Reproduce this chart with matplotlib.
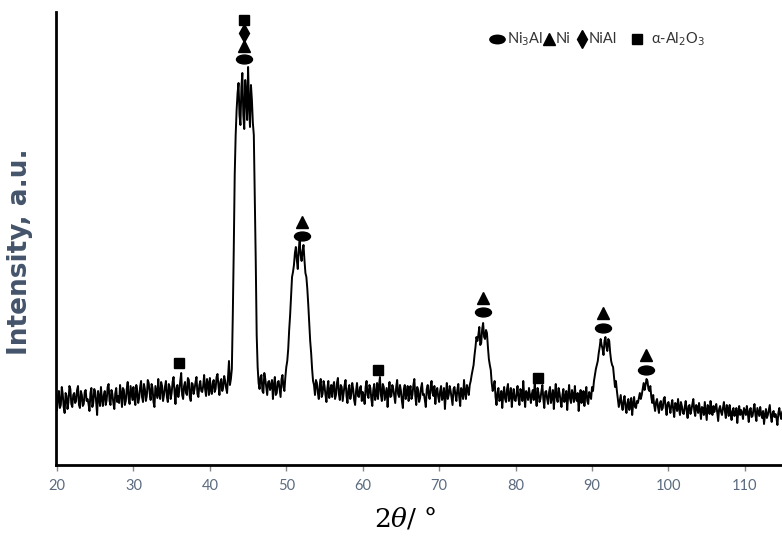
import numpy as np
import matplotlib
matplotlib.use("Agg")
import matplotlib.pyplot as plt
from matplotlib.path import Path
from matplotlib.transforms import Affine2D

# ---------------------------------------------
# XRD scan, intensity in a.u.
# readings on the 0.25 deg grid (20.0, 20.25, ...)
# and the in-between readings (20.125, 20.375, ...)
# ---------------------------------------------
theta_start = 20.0
theta_step = 0.25
intensity = [
    55, 74, 60, 71, 52, 69, 63, 76,
    58, 72, 64, 79, 57, 70, 61, 75,
    66, 54, 77, 62, 73, 50, 68, 78,
    59, 74, 65, 81, 60, 71, 56, 77,
    69, 80, 58, 75, 64, 83, 61, 72,
    78, 60, 74, 67, 84, 63, 76, 69,
    82, 65, 77, 58, 73, 86, 66, 79,
    70, 84, 63, 78, 72, 88, 61, 80,
    74, 92, 66, 83, 70, 85, 64, 81,
    76, 88, 68, 84, 73, 90, 69, 82,
    87, 71, 85, 76, 91, 70, 86, 78,
    84, 72, 104, 86, 150, 290, 355, 382,
    340, 392, 336, 372, 398, 338, 365, 330,
    205, 98, 76, 90, 72, 86, 70, 84,
    79, 66, 88, 72, 84, 68, 90, 74,
    98, 116, 150, 188, 200, 218, 196, 224,
    204, 220, 192, 176, 142, 112, 84, 70,
    82, 66, 86, 71, 79, 63, 84, 74,
    68, 83, 70, 87, 65, 78, 72, 85,
    62, 80, 71, 76, 60, 82, 68, 79,
    73, 61, 84, 67, 77, 59, 81, 70,
    66, 88, 64, 78, 71, 58, 83, 69,
    76, 62, 85, 68, 74, 57, 80, 72,
    64, 79, 70, 86, 60, 75, 67, 82,
    71, 58, 80, 66, 84, 69, 61, 77,
    63, 79, 68, 56, 82, 70, 74, 60,
    78, 64, 81, 59, 73, 85, 66, 76,
    80, 90, 100, 118, 124, 138, 122, 142,
    126, 132, 106, 95, 74, 84, 60, 77,
    66, 57, 78, 63, 81, 69, 58, 76,
    64, 79, 60, 73, 84, 58, 71, 77,
    62, 75, 83, 59, 72, 66, 80, 57,
    74, 61, 78, 68, 56, 81, 63, 72,
    58, 76, 67, 55, 80, 62, 70, 79,
    64, 54, 75, 69, 59, 78, 61, 70,
    78, 84, 96, 104, 118, 120, 110, 128,
    114, 124, 104, 98, 78, 74, 58, 70,
    55, 69, 52, 66, 60, 50, 68, 57,
    62, 72, 70, 82, 80, 84, 74, 68,
    70, 54, 66, 52, 64, 57, 68, 50,
    63, 52, 65, 48, 61, 66, 50, 59,
    51, 64, 47, 60, 55, 66, 49, 58,
    62, 46, 57, 63, 45, 58, 64, 50,
    53, 61, 44, 59, 50, 63, 47, 56,
    60, 45, 57, 52, 42, 59, 55, 46,
    54, 59, 43, 57, 49, 61, 44, 53,
    58, 47, 41, 56, 50, 60, 43, 54,
    51, 40, 57, 46, 55, 42, 53, 39,
    52, 45, 38, 54, 47,
]
intensity_mid = [
    68, 57, 78, 58, 72, 56, 79, 61,
    70, 62, 75, 60, 74, 59, 73, 64,
    61, 72, 58, 76, 63, 74, 59, 66,
    70, 60, 78, 64, 75, 62, 72, 63,
    62, 71, 77, 60, 76, 66, 79, 65,
    66, 80, 62, 78, 68, 81, 64, 85,
    72, 81, 63, 79, 67, 70, 83, 64,
    78, 68, 81, 66, 83, 73, 77, 68,
    84, 70, 79, 72, 87, 68, 82, 71,
    83, 71, 80, 74, 79, 76, 86, 70,
    75, 82, 73, 88, 79, 83, 74, 89,
    77, 88, 80, 96, 215, 330, 372, 350,
    378, 350, 385, 345, 360, 380, 342, 270,
    130, 82, 88, 74, 92, 78, 83, 75,
    85, 80, 70, 83, 76, 86, 78, 88,
    104, 135, 170, 193, 212, 205, 216, 210,
    214, 205, 188, 160, 124, 96, 80, 85,
    72, 80, 68, 84, 70, 77, 67, 80,
    79, 66, 82, 71, 80, 64, 80, 69,
    76, 66, 82, 65, 74, 69, 77, 64,
    68, 78, 70, 80, 66, 75, 65, 82,
    79, 70, 81, 65, 77, 73, 68, 80,
    69, 78, 71, 80, 64, 76, 66, 79,
    74, 66, 80, 69, 78, 63, 77, 70,
    65, 76, 70, 78, 72, 79, 74, 68,
    74, 65, 77, 71, 66, 79, 67, 76,
    70, 75, 68, 77, 66, 72, 80, 70,
    84, 95, 110, 128, 130, 120, 136, 128,
    135, 118, 100, 82, 78, 68, 72, 64,
    74, 70, 66, 76, 64, 77, 70, 65,
    72, 66, 76, 64, 69, 74, 65, 70,
    71, 65, 69, 77, 63, 74, 66, 73,
    66, 73, 62, 75, 70, 67, 77, 64,
    70, 63, 74, 69, 66, 75, 63, 67,
    72, 67, 62, 74, 70, 64, 73, 66,
    74, 90, 100, 112, 126, 116, 124, 118,
    126, 112, 100, 88, 84, 66, 64, 60,
    64, 58, 62, 55, 67, 61, 58, 64,
    67, 66, 76, 75, 86, 76, 79, 62,
    60, 63, 58, 62, 55, 66, 58, 61,
    58, 60, 55, 62, 54, 57, 63, 52,
    58, 54, 59, 51, 61, 54, 60, 52,
    55, 58, 50, 54, 60, 51, 56, 59,
    58, 52, 56, 53, 57, 54, 60, 49,
    52, 54, 49, 57, 53, 50, 52, 57,
    50, 52, 55, 48, 56, 50, 57, 49,
    51, 54, 50, 47, 55, 49, 52, 48,
    47, 52, 50, 53, 48, 51, 46, 54,
    48, 51, 46, 50,
]
theta_grid = theta_start + theta_step * np.arange(len(intensity))
theta_mid = theta_start + theta_step / 2 + theta_step * np.arange(len(intensity_mid))
two_theta = np.concatenate([theta_grid, theta_mid])
counts = np.concatenate([intensity, intensity_mid])
order = np.argsort(two_theta)
two_theta, counts = two_theta[order], counts[order]

# phase markers above the peaks
ni3al_x = [44.5, 52.0, 75.7, 91.4, 97.0]
ni3al_y = [406, 229, 153, 137, 95]
ni_x = [44.5, 52.0, 75.7, 91.4, 97.0]
ni_y = [419, 243, 167, 152, 110]
nial_x = [44.5]
nial_y = [432]
al2o3_x = [44.5, 36.0, 62.0, 82.9]
al2o3_y = [445, 102, 95, 87]

xticks = [20, 30, 40, 50, 60, 70, 80, 90, 100, 110]

# oval marker (wider than tall)
ellipse = Path.unit_circle().transformed(Affine2D().scale(1.8, 1.0))

tick_col = "#5b6b7f"

fig = plt.figure(figsize=(7.82, 5.37), dpi=100)
ax = fig.add_axes([56 / 782, 72 / 537, 726 / 782, 453 / 537])

ax.plot(two_theta, counts, color="black", linewidth=1.4)

ax.plot(ni3al_x, ni3al_y, linestyle="none", marker=ellipse, markersize=11.5, color="black")
ax.plot(ni_x, ni_y, linestyle="none", marker="^", markersize=8, color="black")
ax.plot(nial_x, nial_y, linestyle="none", marker="d", markersize=9, color="black")
ax.plot(al2o3_x, al2o3_y, linestyle="none", marker="s", markersize=7, color="black")

ax.set_xlim(19.87, 114.85)
ax.set_ylim(0, 453)
ax.set_xticks(xticks)
ax.set_yticks([])
for s in ["top", "right"]:
    ax.spines[s].set_visible(False)
ax.spines["left"].set_linewidth(2)
ax.spines["bottom"].set_linewidth(2)
ax.tick_params(axis="x", direction="out", length=4, width=1, color="#888888",
               labelsize=10.5, labelcolor=tick_col, pad=6)
for lab in ax.get_xticklabels():
    lab.set_fontfamily("Lato")

ax.set_ylabel("Intensity, a.u.", fontsize=19, fontweight="bold", color="#44546a",
              family="DejaVu Sans")
ax.yaxis.set_label_coords(-0.032, 0.47)
fig.text(405 / 782, 1 - 518 / 537, r"$2\theta$/ °", fontsize=19, ha="center",
         va="center", family="DejaVu Serif", math_fontfamily="dejavuserif")

# legend row at top right
leg_y = 1 - 39 / 537
def fig_marker(px, marker, size):
    ax.plot([px / 782], [leg_y], marker=marker, markersize=size, color="black",
            transform=fig.transFigure, clip_on=False, linestyle="none")

def fig_label(px, txt):
    fig.text(px / 782, leg_y, txt, fontsize=10.5, family="Lato", color="#333333",
             ha="left", va="center")

fig_marker(497, ellipse, 11)
fig_label(507, r"Ni$_3$Al")
fig_marker(549, "^", 8)
fig_label(556, "Ni")
fig_marker(582, "d", 9)
fig_label(589, "NiAl")
fig_marker(637, "s", 6.5)
fig_label(651, r"α-Al$_2$O$_3$")

fig.savefig("out.png", dpi=100)
